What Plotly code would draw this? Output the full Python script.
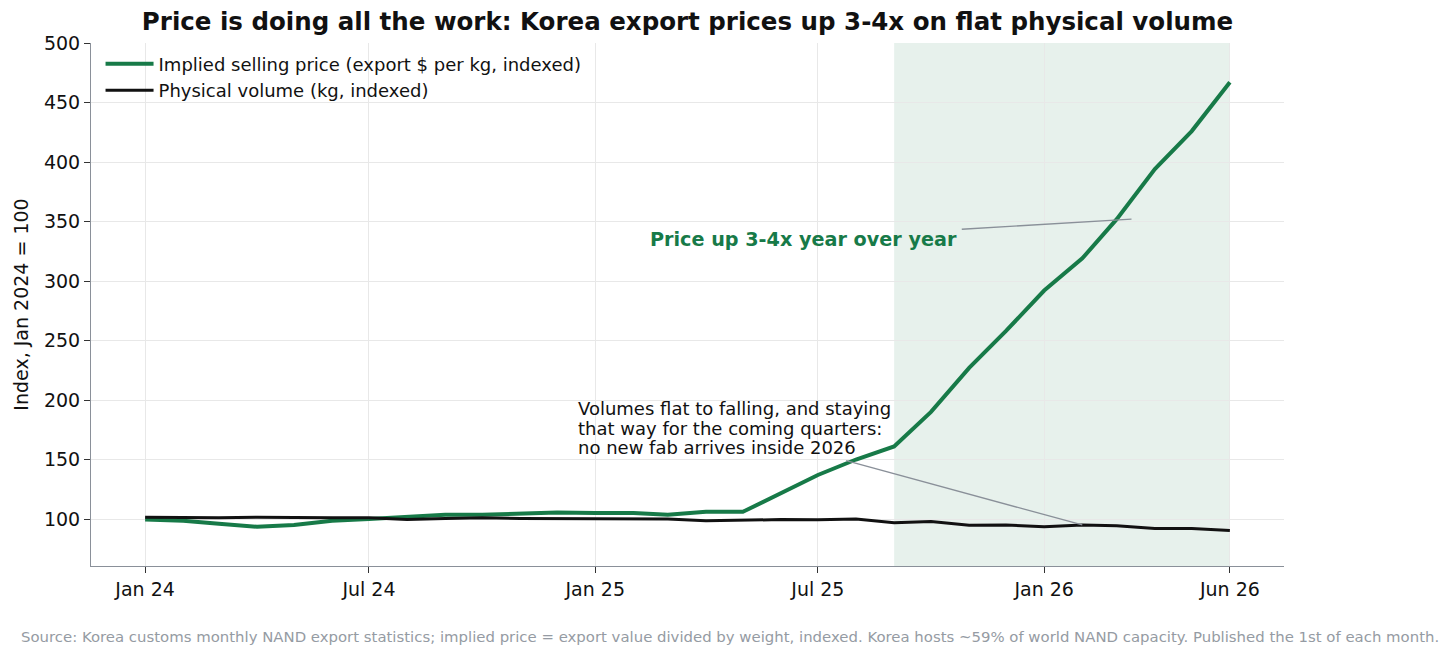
import plotly.graph_objects as go
import pandas as pd

months = pd.date_range("2024-01-01", "2026-06-01", freq="MS")
price_index = [99.5, 98.5, 96, 93.5, 95, 98.5, 100, 101.5, 103.5, 103.5, 104.5, 105.5,
               105, 105, 103.5, 106, 106, 122, 137, 150, 161, 190, 227, 258,
               292, 319, 352, 394, 426, 467]
volume_index = [101.5, 101, 101, 101.5, 101, 101, 101, 99.5, 100.5, 101, 100.5, 100.3,
                100.5, 100.3, 100, 98.5, 99.3, 99.5, 99.3, 100, 96.8, 97.8, 94.8, 95,
                93.5, 95, 94.4, 92, 92, 90.3]
tick_dates = ["2024-01-01", "2024-07-01", "2025-01-01", "2025-07-01", "2026-01-01", "2026-06-01"]
tick_labels = ["Jan 24", "Jul 24", "Jan 25", "Jul 25", "Jan 26", "Jun 26"]
volume_note = ["Volumes flat to falling, and staying",
               "that way for the coming quarters:",
               "no new fab arrives inside 2026"]

GREEN = "#177a48"
FONT = "DejaVu Sans"

fig = go.Figure()
fig.add_trace(go.Scatter(x=months, y=price_index, mode="lines",
                         name="Implied selling price (export $ per kg, indexed)",
                         line=dict(color=GREEN, width=4)))
fig.add_trace(go.Scatter(x=months, y=volume_index, mode="lines",
                         name="Physical volume (kg, indexed)",
                         line=dict(color="#111111", width=3)))

# shaded window
fig.add_shape(type="rect", xref="x", yref="paper", x0="2025-09-01", x1="2026-06-01",
              y0=0, y1=1, fillcolor="rgba(23,122,72,0.10)", line_width=0, layer="below")

# price annotation
fig.add_shape(type="line", xref="x", yref="y", x0="2025-10-26", y0=343.5,
              x1="2026-03-13", y1=352, line=dict(color="#8a9099", width=1.3))
fig.add_annotation(x="2025-10-24", y=335, xref="x", yref="y", text="<b>Price up 3-4x year over year</b>",
                   showarrow=False, xanchor="right", yanchor="middle",
                   font=dict(family=FONT, size=19.2, color=GREEN))
# volume annotation
fig.add_shape(type="line", xref="x", yref="y", x0="2025-07-24", y0=149,
              x1=months[25], y1=volume_index[25], line=dict(color="#8a9099", width=1.3))
for line_text, yv in zip(volume_note, [192.5, 176.0, 159.9]):
    fig.add_annotation(x="2024-12-16", y=yv, xref="x", yref="y", text=line_text,
                       showarrow=False, xanchor="left", yanchor="middle", align="left",
                       font=dict(family=FONT, size=18, color="#111111"))

fig.add_annotation(x=0.536, y=-0.136, xref="paper", yref="paper",
                   text="Source: Korea customs monthly NAND export statistics; implied price = export value divided by weight, indexed. Korea hosts ~59% of world NAND capacity. Published the 1st of each month.",
                   showarrow=False, xanchor="center", yanchor="middle",
                   font=dict(family=FONT, size=14.9, color="#959ba3"))

fig.update_layout(
    width=1456, height=660,
    margin=dict(l=91, r=172, t=43, b=94),
    paper_bgcolor="white", plot_bgcolor="white",
    font=dict(family=FONT, color="#111111"),
    title=dict(text="<b>Price is doing all the work: Korea export prices up 3-4x on flat physical volume</b>",
               x=0.5, xref="paper", y=0.967, yanchor="middle", xanchor="center",
               font=dict(family=FONT, size=24.5, color="#111111")),
    legend=dict(x=0.008, y=0.995, xanchor="left", yanchor="top", bgcolor="rgba(0,0,0,0)",
                font=dict(family=FONT, size=18), tracegroupgap=0, itemwidth=48),
    showlegend=True,
)
fig.update_xaxes(range=["2023-11-18", "2026-07-15"], tickvals=tick_dates, ticktext=tick_labels,
                 showgrid=True, gridcolor="#e8e8e8", gridwidth=1,
                 showline=True, linecolor="#8a9099", linewidth=1,
                 ticks="outside", ticklen=6, tickcolor="#333333",
                 tickfont=dict(family=FONT, size=19), zeroline=False)
fig.update_yaxes(range=[60.5, 500], tickvals=[100, 150, 200, 250, 300, 350, 400, 450, 500],
                 showgrid=True, gridcolor="#e8e8e8", gridwidth=1,
                 showline=True, linecolor="#8a9099", linewidth=1,
                 ticks="outside", ticklen=6, tickcolor="#333333",
                 tickfont=dict(family=FONT, size=19), zeroline=False,
                 title=dict(text="Index, Jan 2024 = 100", font=dict(family=FONT, size=19), standoff=10))

fig.write_html("out.html")
